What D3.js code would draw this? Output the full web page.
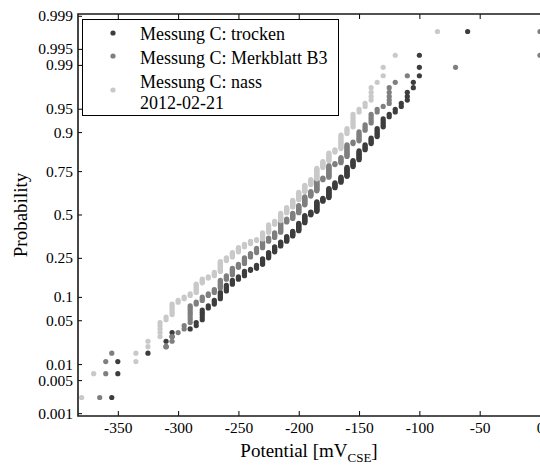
<!DOCTYPE html>
<html>
<head>
<meta charset="utf-8">
<script src="https://cdn.jsdelivr.net/npm/d3@7"></script>
<style>
  html, body { margin: 0; padding: 0; background: #fff; }
  svg { display: block; }
</style>
</head>
<body>
<svg id="chart" width="540" height="466"></svg>
<script>
// Potential measurements (mV vs. CSE), grouped as distinct values and how often each occurs
const trockenValues = [-355,-350,-325,-310,-305,-290,-285,-280,-275,-270,-265,-260,-255,-250,-245,-240,-235,-230,-225,-220,-215,-210,-205,-200,-195,-190,-185,-180,-175,-170,-165,-160,-155,-150,-145,-140,-135,-130,-125,-120,-115,-110,-105,-100,-60];
const trockenCounts = [1,2,1,2,2,1,2,5,2,3,5,5,4,3,5,2,4,7,7,7,6,7,7,11,11,5,14,5,13,7,7,11,7,9,5,5,6,5,2,2,2,3,2,3,1];

const merkblattValues = [-365,-360,-355,-310,-305,-300,-295,-290,-285,-280,-275,-270,-265,-260,-255,-250,-245,-240,-235,-230,-225,-220,-215,-210,-205,-200,-195,-190,-185,-180,-175,-170,-165,-160,-155,-150,-145,-140,-135,-130,-125,-120,-110,-70,0];
const merkblattCounts = [1,2,1,1,2,1,2,8,2,3,2,3,7,4,7,4,7,5,6,8,5,7,14,5,8,11,12,7,14,3,14,2,6,11,2,7,4,5,2,1,5,1,1,1,2];

const nassValues = [-380,-370,-335,-325,-315,-310,-305,-300,-295,-290,-285,-280,-275,-270,-265,-260,-255,-250,-245,-240,-235,-230,-225,-220,-215,-210,-205,-200,-195,-190,-185,-180,-175,-170,-165,-160,-155,-150,-145,-140,-135,-130,-120,-85];
const nassCounts = [1,1,2,2,5,2,6,2,2,2,7,4,2,4,11,4,6,6,4,4,2,9,11,5,11,8,10,11,9,7,13,7,8,3,11,4,7,2,2,4,1,2,1,1];

const seriesLabels = [["Messung C: trocken"], ["Messung C: Merkblatt B3"], ["Messung C: nass", "2012-02-21"]];
const seriesColors = ["#3d3d3d", "#7f7f7f", "#c9c9c9"];

const xTicks = [-350, -300, -250, -200, -150, -100, -50, 0];
const probTicks = [0.001, 0.005, 0.01, 0.05, 0.1, 0.25, 0.5, 0.75, 0.9, 0.95, 0.99, 0.995, 0.999];
const probTickLabels = ["0.001", "0.005", "0.01", "0.05", "0.1", "0.25", "0.5", "0.75", "0.9", "0.95", "0.99", "0.995", "0.999"];

const FONT = "'Liberation Serif', 'Times New Roman', Times, 'DejaVu Serif', serif";

// Inverse of the standard normal CDF (Acklam's rational approximation)
function probit(p) {
  const a = [-3.969683028665376e+01, 2.209460984245205e+02, -2.759285104469687e+02, 1.383577518672690e+02, -3.066479806614716e+01, 2.506628277459239e+00];
  const b = [-5.447609879822406e+01, 1.615858368580409e+02, -1.556989798598866e+02, 6.680131188771972e+01, -1.328068155288572e+01];
  const c = [-7.784894002430293e-03, -3.223964580411365e-01, -2.400758277161838e+00, -2.549732539343734e+00, 4.374664141464968e+00, 2.938163982698783e+00];
  const d = [7.784695709041462e-03, 3.224671290700398e-01, 2.445134137142996e+00, 3.754408661907416e+00];
  const pl = 0.02425;
  if (p < pl) {
    const q = Math.sqrt(-2 * Math.log(p));
    return (((((c[0]*q+c[1])*q+c[2])*q+c[3])*q+c[4])*q+c[5]) / ((((d[0]*q+d[1])*q+d[2])*q+d[3])*q+1);
  }
  if (p > 1 - pl) {
    const q = Math.sqrt(-2 * Math.log(1 - p));
    return -(((((c[0]*q+c[1])*q+c[2])*q+c[3])*q+c[4])*q+c[5]) / ((((d[0]*q+d[1])*q+d[2])*q+d[3])*q+1);
  }
  const q = p - 0.5, r = q * q;
  return (((((a[0]*r+a[1])*r+a[2])*r+a[3])*r+a[4])*r+a[5])*q / (((((b[0]*r+b[1])*r+b[2])*r+b[3])*r+b[4])*r+1);
}

// Expand value/count pairs into a sorted sample and attach normal-plot positions (i - 0.5) / n
function normalPlotPoints(values, counts) {
  const sample = [];
  values.forEach((v, k) => { for (let j = 0; j < counts[k]; j++) sample.push(v); });
  sample.sort((a, b) => a - b);
  const n = sample.length;
  return sample.map((v, i) => ({ v, z: probit((i + 0.5) / n) }));
}

const series = [
  normalPlotPoints(trockenValues, trockenCounts),
  normalPlotPoints(merkblattValues, merkblattCounts),
  normalPlotPoints(nassValues, nassCounts)
];

const plotLeft = 78, plotRight = 540, plotTop = 14, plotBottom = 416;
const svg = d3.select("#chart");
svg.append("rect").attr("width", 540).attr("height", 466).attr("fill", "#fff");

const x = d3.scaleLinear().domain([-383, 0]).range([plotLeft, plotRight]);
const y = d3.scaleLinear().domain([3.118, -3.134]).range([plotTop, plotBottom]);

// points
const plot = svg.append("g");
series.forEach((pts, s) => {
  plot.append("g").selectAll("circle").data(pts).join("circle")
    .attr("cx", d => x(d.v))
    .attr("cy", d => y(d.z))
    .attr("r", 2.6)
    .attr("fill", seriesColors[s]);
});

// axes with inward ticks
const bottomAxis = svg.append("g").attr("transform", `translate(0,${plotBottom})`)
  .call(d3.axisBottom(x).tickValues(xTicks).tickSize(-5).tickPadding(6).tickFormat(d => String(d)));

svg.append("g").attr("transform", `translate(0,${plotTop})`)
  .call(d3.axisTop(x).tickValues(xTicks).tickSize(-5).tickFormat(""));

const leftAxis = svg.append("g").attr("transform", `translate(${plotLeft},0)`)
  .call(d3.axisLeft(y).tickValues(probTicks.map(probit)).tickSize(-4).tickPadding(5)
    .tickFormat((d, i) => probTickLabels[i]));

svg.selectAll(".domain").remove();
svg.selectAll(".tick line").attr("stroke", "#000").attr("stroke-width", 1);
svg.selectAll(".tick text").attr("fill", "#000")
  .style("font-family", FONT).style("font-size", "15.5px");

// frame
svg.append("path")
  .attr("d", `M${plotRight + 2},${plotTop} H${plotLeft} V${plotBottom} H${plotRight + 2}`)
  .attr("fill", "none").attr("stroke", "#1a1a1a").attr("stroke-width", 1.6);

// legend
const lg = svg.append("g");
lg.append("rect").attr("x", 82.5).attr("y", 19.5).attr("width", 256).attr("height", 96)
  .attr("fill", "#fff").attr("stroke", "#000").attr("stroke-width", 1);
const legendRows = [{ my: 33, ty: [40] }, { my: 56, ty: [64] }, { my: 90, ty: [88, 108.5] }];
legendRows.forEach((row, s) => {
  lg.append("circle").attr("cx", 113).attr("cy", row.my).attr("r", 2.6).attr("fill", seriesColors[s]);
  row.ty.forEach((ty, j) => {
    lg.append("text").attr("x", 140).attr("y", ty)
      .style("font-family", FONT).style("font-size", "18px").attr("fill", "#000")
      .text(seriesLabels[s][j]);
  });
});

// axis titles
const xt = svg.append("text").attr("x", (plotLeft + plotRight) / 2).attr("y", 456.5)
  .attr("text-anchor", "middle").attr("fill", "#000")
  .style("font-family", FONT).style("font-size", "19px");
xt.append("tspan").text("Potential [mV");
xt.append("tspan").attr("dy", 5).style("font-size", "13px").text("CSE");
xt.append("tspan").attr("dy", -5).text("]");

svg.append("text").attr("transform", `translate(26.5,${(plotTop + plotBottom) / 2}) rotate(-90)`)
  .attr("text-anchor", "middle").attr("fill", "#000")
  .style("font-family", FONT).style("font-size", "19px").text("Probability");
</script>
</body>
</html>
